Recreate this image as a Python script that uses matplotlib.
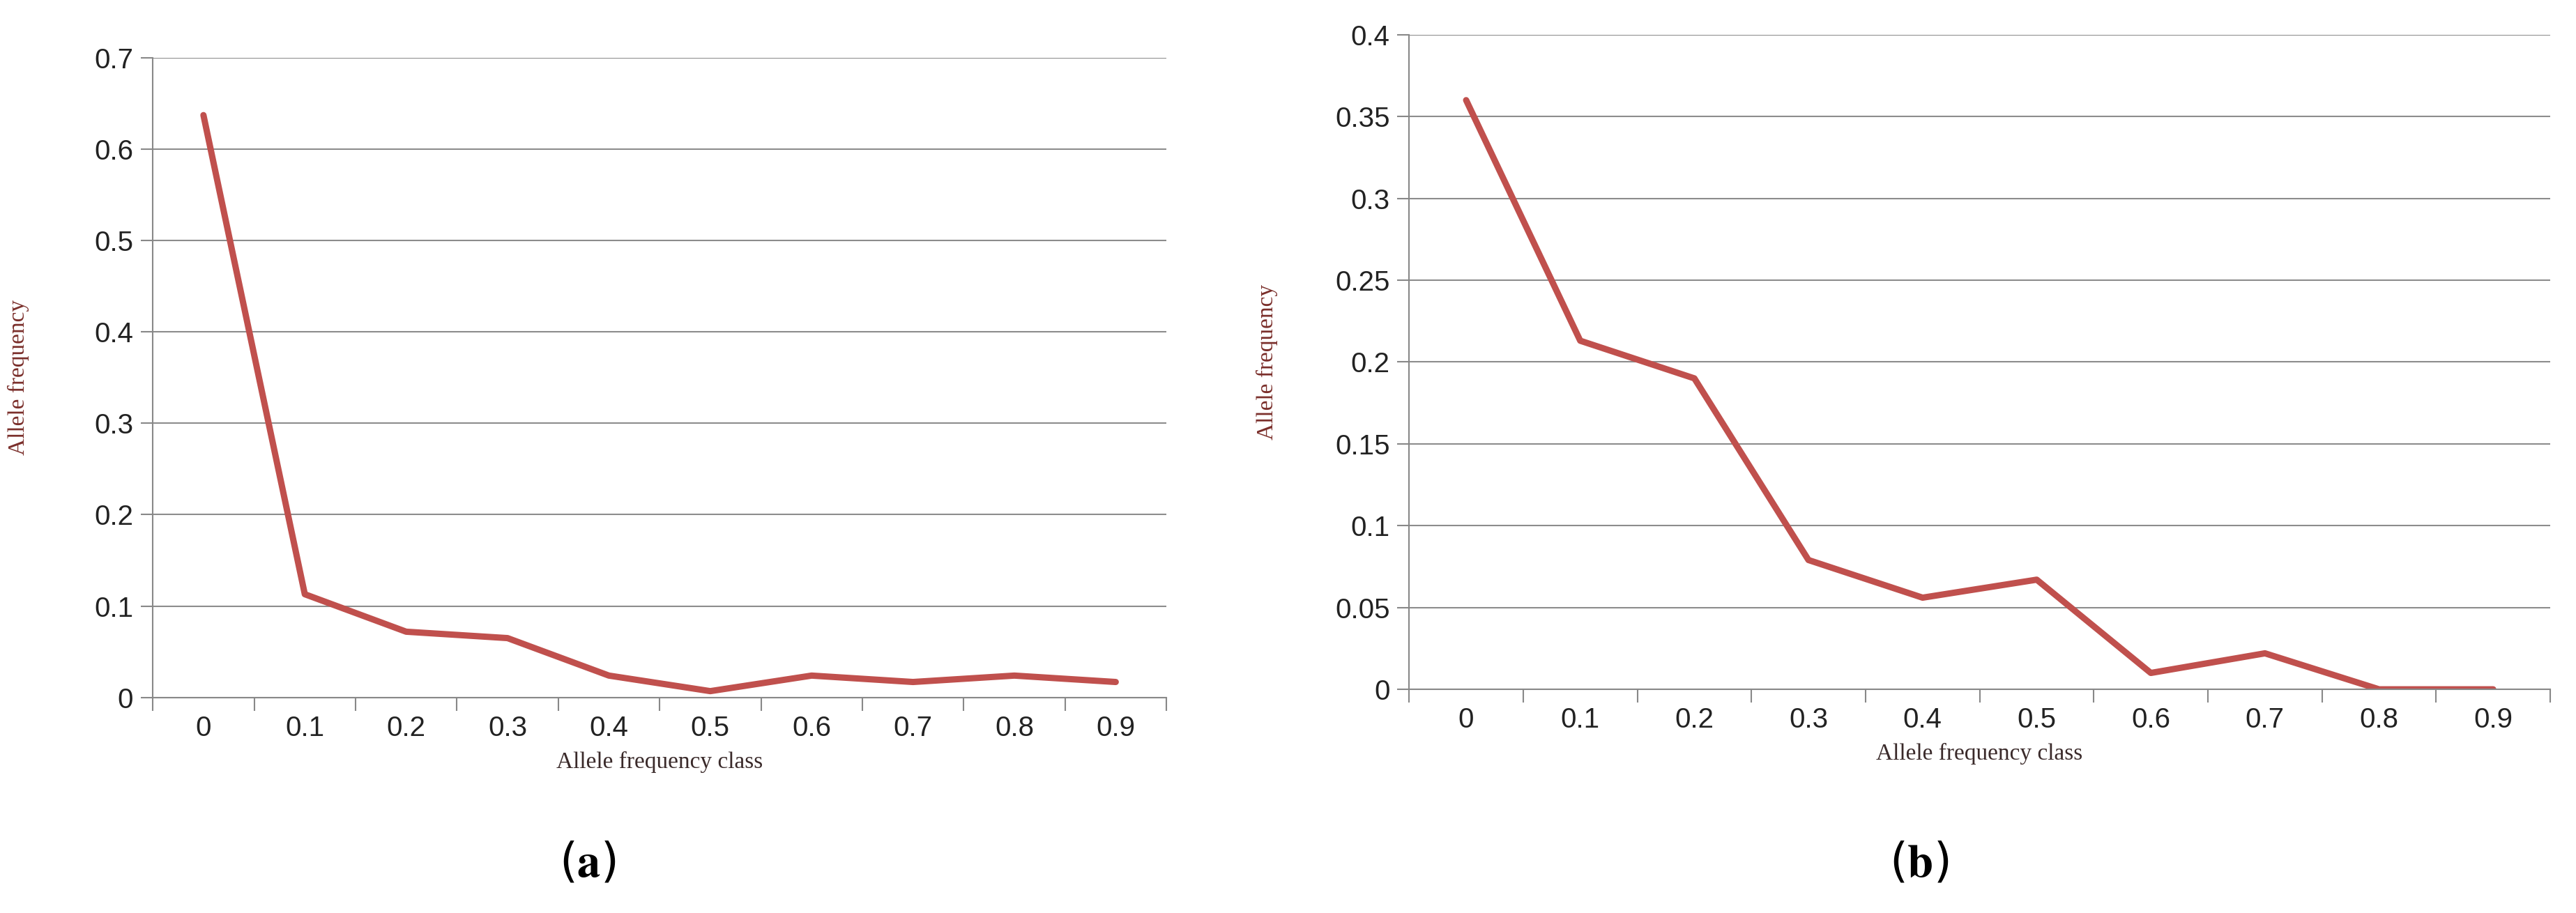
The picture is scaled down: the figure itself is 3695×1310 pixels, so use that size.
import matplotlib
matplotlib.use("Agg")
import matplotlib.pyplot as plt
import numpy as np

categories = ["0", "0.1", "0.2", "0.3", "0.4", "0.5", "0.6", "0.7", "0.8", "0.9"]
values_a = [0.637, 0.113, 0.072, 0.065, 0.024, 0.007, 0.024, 0.017, 0.024, 0.017]
values_b = [0.360, 0.213, 0.190, 0.079, 0.056, 0.067, 0.010, 0.022, 0.0, 0.0]

plt.rcParams['mathtext.fontset'] = 'stix'
fig = plt.figure(figsize=(36.95, 13.10), dpi=100)

def panel(rect, vals, ymax, ystep, yfmt, letter, letter_x, ylab_x):
    ax = fig.add_axes(rect)
    x = np.arange(len(categories))
    ax.plot(x, vals, color="#C0504D", lw=6.5, solid_joinstyle="round", solid_capstyle="round")
    ax.set_xlim(-0.5, len(categories) - 0.5)
    ax.set_ylim(0, ymax)
    yt = np.arange(0, ymax + 1e-9, ystep)
    ax.set_yticks(yt)
    ax.set_yticklabels([yfmt(v) for v in yt], fontsize=29, family="Liberation Sans", color="#222222")
    ax.set_xticks(x)
    ax.set_xticklabels(categories, fontsize=29, family="Liberation Sans", color="#222222")
    ax.set_xticks(np.arange(-0.5, len(categories)), minor=True)
    ax.tick_params(axis="x", which="major", length=0, pad=18)
    ax.tick_params(axis="x", which="minor", length=14, color="#888888", width=1.5)
    ax.tick_params(axis="y", length=12, color="#888888", width=1.5, pad=8)
    ax.grid(axis="y", color="#8c8c8c", lw=1.5)
    ax.set_axisbelow(True)
    for s in ["top", "right"]:
        ax.spines[s].set_visible(False)
    for s in ["left", "bottom"]:
        ax.spines[s].set_color("#888888")
        ax.spines[s].set_linewidth(1.5)
    ax.set_xlabel("Allele frequency class", fontsize=24, family="Liberation Serif", labelpad=10, color="#3a2a2a")
    ax.set_ylabel("Allele frequency", fontsize=24, family="Liberation Serif", color="#7a2e2a")
    ax.yaxis.set_label_coords(ylab_x, 0.5)
    fig.text(letter_x, 0.04, r"($\mathbf{" + letter + r"}$)", fontsize=48, ha="center")
    return ax

def fmt(v):
    s = ("%.2f" % v).rstrip("0").rstrip(".")
    return s if s else "0"

panel([0.0593, 0.236, 0.3935, 0.701], values_a, 0.7, 0.1, fmt, "a", 0.228, -0.122)
panel([0.547, 0.245, 0.443, 0.717], values_b, 0.4, 0.05, fmt, "b", 0.745, -0.115)
fig.savefig("out.png", dpi=100)
